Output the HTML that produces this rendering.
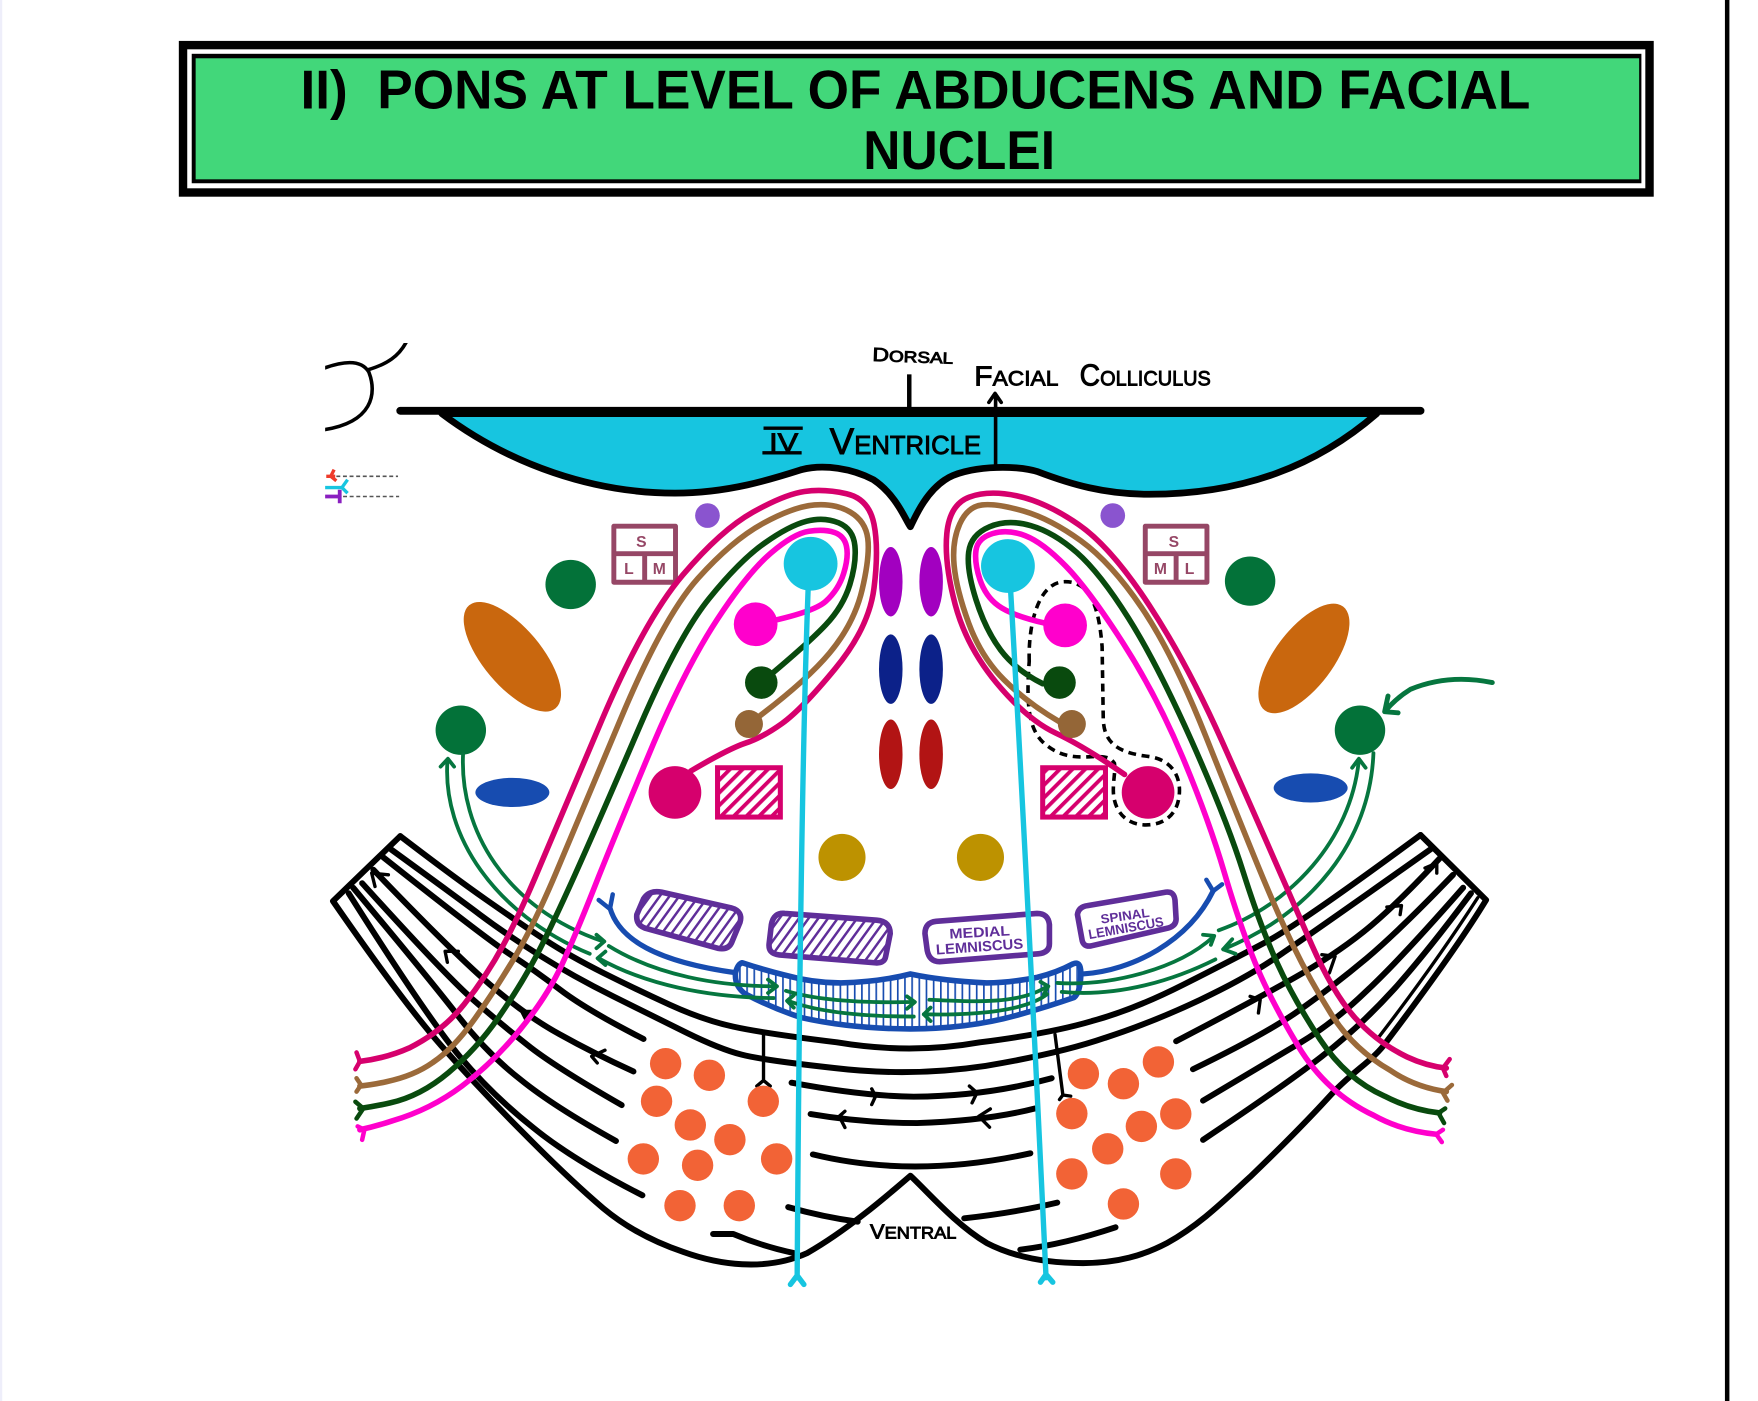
<!DOCTYPE html>
<html lang="en">
<head>
<meta charset="utf-8">
<title>Pons at level of abducens and facial nuclei</title>
<style>
html,body{margin:0;padding:0;background:#fff;width:1758px;height:1401px;overflow:hidden}
svg{display:block;position:absolute;left:0;top:0}
text{font-family:"Liberation Sans",sans-serif}
.t{fill:none;stroke-width:5;stroke-linecap:round;stroke-linejoin:round}
.b{fill:none;stroke:#000;stroke-width:5.3;stroke-linecap:round;stroke-linejoin:round}
.g{fill:none;stroke:#06763f;stroke-width:3.4;stroke-linecap:round;stroke-linejoin:round}
.a{fill:none;stroke:#000;stroke-width:3;stroke-linecap:round;stroke-linejoin:round}
.hw{fill:#000;stroke:#000;stroke-width:.8}
</style>
</head>
<body>
<svg width="1758" height="1401" viewBox="0 0 1568 1250" preserveAspectRatio="none" xmlns="http://www.w3.org/2000/svg">
<defs>
<pattern id="hp" width="8" height="8" patternUnits="userSpaceOnUse" patternTransform="rotate(45)"><rect width="8" height="8" fill="#fff"/><rect width="3.4" height="8" fill="#d6006d"/></pattern>
<pattern id="hv" width="7" height="7" patternUnits="userSpaceOnUse" patternTransform="rotate(36)"><rect width="7" height="7" fill="#fff"/><rect width="2.2" height="7" fill="#5f2e99"/></pattern>
<pattern id="hb" width="6.4" height="6" patternUnits="userSpaceOnUse"><rect width="6.4" height="6" fill="#fff"/><rect width="1.5" height="6" fill="#174cb0"/></pattern>
<clipPath id="cl"><rect x="290" y="306" width="100" height="174"/></clipPath>
</defs>
<rect width="1568" height="1250" fill="#fff"/>
<rect x="0" y="0" width="2" height="1250" fill="#eeeefa"/>
<rect x="1538.5" y="0" width="4" height="1250" fill="#000"/>

<!-- title -->
<rect x="159.5" y="36.5" width="1315.5" height="139" fill="#000"/>
<rect x="167" y="44" width="1300.5" height="124" fill="#fff"/>
<rect x="171" y="48" width="1293" height="115.5" fill="#000"/>
<rect x="174.5" y="52" width="1287.5" height="108" fill="#42d77a"/>
<text x="268" y="97" font-size="49" font-weight="bold" textLength="1097" lengthAdjust="spacingAndGlyphs">II)&#160;&#160;PONS AT LEVEL OF ABDUCENS AND FACIAL</text>
<text x="770" y="151" font-size="49" font-weight="bold" textLength="171" lengthAdjust="spacingAndGlyphs">NUCLEI</text>

<!-- top-left fragment -->
<g clip-path="url(#cl)" fill="none" stroke="#000" stroke-width="3.2" stroke-linecap="round">
<path d="M285,330 C305,322 322,320 329,332 C336,350 334,378 285,384"/>
<path d="M328,330 C345,325 356,318 363,304"/>
</g>

<!-- legend -->
<path d="M300,425H355" stroke="#555" stroke-width="1.4" stroke-dasharray="3.5 2.4"/>
<path d="M291,425H299M298,419L295,425L300,429" fill="none" stroke="#ee3b2a" stroke-width="3"/>
<path d="M290,435H305M310,428L305,435L310,440" fill="none" stroke="#17c5e0" stroke-width="3"/>
<path d="M290,443H304M303,437V449" fill="none" stroke="#8a1fc0" stroke-width="3.4"/>
<path d="M306,443H356" stroke="#555" stroke-width="1.4" stroke-dasharray="3.5 2.4"/>

<!-- fibres -->
<g class="b">
<path d="M357,746L297,804Q360,895 394,933.5Q428,972 468,1012Q508,1052.5 538,1078Q568,1103 609.5,1117C640,1128 682,1135 720,1118C755,1098 790,1068 812,1049C830,1066 852,1092 880,1109C905,1122 935,1127 966,1127C997,1127 1020,1120 1041,1109C1070,1093 1092,1071 1115,1050C1140,1026 1165,1001 1186,978C1205,957 1222,948 1234,933C1262,896 1300,845 1325.5,803L1267,745"/>
<path d="M357,746Q404,782 434,803Q464,824 486,838.5Q508,853 538,868Q568,883 597.5,896.5Q627,910 654,916Q681,922 746.5,930Q812,941 874,930Q937,922 974,911Q1011,901 1055.5,878.5Q1100,856 1130,840Q1160,824 1267,745"/>
<path d="M349,758Q404,798 428,816Q452,834 481.5,852.5Q511,871 547,889Q583,907 612.5,921.5Q642,936 661.5,941Q681,946 745,953Q812,961 879,951Q945,940 985.5,926Q1026,913 1070.5,892Q1115,871 1144.5,850Q1174,830 1277,757"/>
<path d="M342,765Q434,838 455,851.5Q476,865 499.5,883Q523,901 574,927"/>
<path d="M333,776Q404,850 437,878.5Q470,907 499.5,923Q529,939.5 565,956"/>
<path d="M323,788Q398,871 422,892Q446,913 470,932Q493.5,951 554.5,986"/>
<path d="M315,792Q383.5,874 409,907Q434,939.5 464,963Q493.5,987 549.4,1018"/>
<path d="M311,797Q380.5,907 410,942.5Q440,978 475.5,1006Q511,1035 573,1066.5"/>
<path d="M1284,766Q1243,810 1216,831.5Q1189,853 1153.5,873Q1118,893 1049,929"/>
<path d="M1296,780.5Q1249,829.5 1219,855Q1189,880 1159.5,901Q1130,922 1064,954"/>
<path d="M1305,792Q1249,856 1219,884Q1189,913 1159.5,930.5Q1130,948 1073,982"/>
<path d="M1312,797Q1272.5,850 1243,883Q1213,916 1179,942.5Q1145,969 1073,1017"/>
<path d="M1318,801Q1280,860 1230,925" stroke-width="3"/>
<path d="M706,966Q770,978 815,978.5Q880,978 938,962"/>
<path d="M723,994Q770,1002 818,1002Q880,1000 923,989"/>
<path d="M725,1030Q815,1052 919,1029"/>
<path d="M703,1077Q735,1086 765,1090"/>
<path d="M860,1087Q905,1082 943,1073"/>
<path d="M636,1101H654Q680,1112 708,1118"/>
<path d="M995,1095Q950,1110 910,1115"/>
</g>
<!-- fibre arrowheads -->
<g class="a">
<path d="M346.4,780.5L331.5,779L334.5,791"/>
<path d="M408.8,848.8L397,848.8L399,858.6"/>
<path d="M477,902.4L465.3,902.4L469.7,911"/>
<path d="M539.6,937L527.7,942.5L532.7,948.4"/>
<path d="M1271,774.5L1281.5,770L1281.5,779"/>
<path d="M1237,809.3L1250,808L1248.8,816"/>
<path d="M1179,851.8L1190.8,853.3L1185.7,868"/>
<path d="M1115,889L1124,892L1122.4,903.8"/>
<path d="M777.5,971.5L781,978L777.5,985.5"/>
<path d="M864.6,969L871.4,975L867,984"/>
<path d="M753.6,991.5L748.5,996L753.6,1006"/>
<path d="M883.3,989.4L873,996L882.6,1005.7"/>
<path d="M681,921V964M675,969L681,964L687,969"/>
<path d="M941,923L948,977M945,981L948,977L955,978"/>
</g>

<!-- orange dots -->
<g fill="#f26336">
<circle cx="593.7" cy="949" r="14"/><circle cx="632.7" cy="959.4" r="14"/><circle cx="585.6" cy="982.6" r="14"/><circle cx="680.8" cy="982.6" r="14"/><circle cx="615.7" cy="1003.7" r="14"/><circle cx="651" cy="1016.8" r="14"/><circle cx="573.8" cy="1034" r="14"/><circle cx="622.2" cy="1039.7" r="14"/><circle cx="692.7" cy="1034" r="14"/><circle cx="606.5" cy="1075.7" r="14"/><circle cx="659.4" cy="1075.7" r="14"/>
<circle cx="966.3" cy="958" r="14"/><circle cx="1002" cy="966.9" r="14"/><circle cx="1033.2" cy="947.5" r="14"/><circle cx="956" cy="993.6" r="14"/><circle cx="1048.7" cy="993.9" r="14"/><circle cx="1018" cy="1005" r="14"/><circle cx="988" cy="1025" r="14"/><circle cx="956" cy="1047.4" r="14"/><circle cx="1048.7" cy="1047.4" r="14"/><circle cx="1002" cy="1074.2" r="14"/>
</g>

<!-- top line & ventricle -->
<path d="M394,369C455,415 530,440 602,440C650,440 690,427 715,419C735,414 760,418 779,428C800,442 808,465 812,470C816,462 825,440 843,428C860,416 905,414 926,421C955,432 985,441 1025,441C1110,441 1175,415 1228,369Z" fill="#17c5e0" stroke="#000" stroke-width="6" stroke-linejoin="round"/>
<path d="M357,366.5H1267" stroke="#000" stroke-width="7" stroke-linecap="round"/>
<path d="M811,334V364" stroke="#000" stroke-width="4"/>
<path d="M888,417V353M882,359L887.5,351L893,359" fill="none" stroke="#000" stroke-width="3.2" stroke-linecap="round" stroke-linejoin="round"/>

<!-- handwritten labels -->
<text class="hw" x="778" y="322" font-size="14" textLength="72" lengthAdjust="spacingAndGlyphs" transform="rotate(2 778 322)"><tspan font-size="17">D</tspan>ORSAL</text>
<text class="hw" x="869" y="344" font-size="19" textLength="75" lengthAdjust="spacingAndGlyphs"><tspan font-size="25">F</tspan>ACIAL</text>
<text class="hw" x="963" y="344" font-size="19" textLength="117" lengthAdjust="spacingAndGlyphs"><tspan font-size="27">C</tspan>OLLICULUS</text>
<text class="hw" x="686" y="403" font-size="23" textLength="26" lengthAdjust="spacingAndGlyphs">IV</text>
<path d="M681,382H716M680,404H715" stroke="#000" stroke-width="3" fill="none"/>
<text class="hw" x="740" y="405" font-size="23" textLength="135" lengthAdjust="spacingAndGlyphs"><tspan font-size="33">V</tspan>ENTRICLE</text>
<text class="hw" x="776" y="1105" font-size="15" textLength="77" lengthAdjust="spacingAndGlyphs"><tspan font-size="18">V</tspan>ENTRAL</text>

<!-- S L M boxes -->
<g fill="none" stroke="#964766" stroke-width="4.4" stroke-linejoin="round">
<rect x="547.5" y="469.5" width="55" height="50"/><path d="M547.5,494H602.5M575,494V519.5"/>
<rect x="1021.5" y="469.5" width="55" height="50"/><path d="M1021.5,494H1076.5M1049,494V519.5"/>
</g>
<g fill="#964766" font-size="14" font-weight="bold" text-anchor="middle">
<text x="572" y="488">S</text><text x="561" y="512">L</text><text x="588" y="512">M</text>
<text x="1047" y="488">S</text><text x="1035" y="512">M</text><text x="1061" y="512">L</text>
</g>

<!-- nuclei -->
<circle cx="631" cy="460" r="11" fill="#8a54cf"/><circle cx="992.5" cy="460" r="11" fill="#8a54cf"/>
<g fill="#037239">
<ellipse cx="509" cy="521.5" rx="22.5" ry="22"/><ellipse cx="1115" cy="518.5" rx="22.5" ry="22"/>
<ellipse cx="411" cy="651.5" rx="22.5" ry="22"/><ellipse cx="1213" cy="651.5" rx="22.5" ry="22"/>
</g>
<ellipse cx="457" cy="586" rx="26" ry="60" fill="#c9670e" transform="rotate(-40 457 586)"/>
<ellipse cx="1163" cy="587.5" rx="26" ry="58" fill="#c9670e" transform="rotate(37 1163 587.5)"/>
<ellipse cx="457" cy="707" rx="33" ry="13" fill="#174cb0"/>
<ellipse cx="1169" cy="703" rx="33" ry="13" fill="#174cb0"/>
<ellipse cx="794.5" cy="519" rx="10.5" ry="31" fill="#a200c0"/><ellipse cx="830.5" cy="519" rx="10.5" ry="31" fill="#a200c0"/>
<ellipse cx="794.5" cy="597" rx="10.5" ry="31" fill="#0c2189"/><ellipse cx="830.5" cy="597" rx="10.5" ry="31" fill="#0c2189"/>
<ellipse cx="794.5" cy="673" rx="10.5" ry="31" fill="#b21414"/><ellipse cx="830.5" cy="673" rx="10.5" ry="31" fill="#b21414"/>
<circle cx="751" cy="765" r="21" fill="#bd9200"/><circle cx="874.5" cy="765" r="21" fill="#bd9200"/>
<rect x="640" y="685" width="56" height="44" fill="url(#hp)" stroke="#d6006d" stroke-width="4.5"/>
<rect x="930" y="685" width="56" height="44" fill="url(#hp)" stroke="#d6006d" stroke-width="4.5"/>

<!-- dashed contour -->
<path d="M918,590C917,560 925,519 950,519C972,519 980,540 983,577L984,640C984,665 1000,672 1025,675C1045,678 1052,692 1052,705C1052,725 1040,736 1022,736C1003,736 993,722 993,705C993,695 995,688 994,681C990,675 985,675 975,675C960,676 945,676 930,662C918,650 915,630 918,590Z" fill="none" stroke="#000" stroke-width="3.2" stroke-dasharray="7 5"/>

<!-- purple boxes -->
<g stroke="#5f2e99" stroke-width="5" stroke-linejoin="round">
<path d="M590,796L652,810Q663,813 660,823L653,840Q650,848 640,846L575,828Q567,825 568,816L574,802Q579,794 590,796Z" fill="url(#hv)"/>
<path d="M700,815L782,821Q794,822 794,833L790,853Q789,860 780,859L695,852Q685,851 686,842L688,825Q690,814 700,815Z" fill="url(#hv)"/>
<path d="M835,822L925,815Q935,815 936,825L936,842Q936,850 926,851L838,858Q829,858 827,848L825,833Q825,823 835,822Z" fill="#fff"/>
<path d="M970,808L1040,796Q1047,795 1048,803L1049,820Q1049,826 1042,828L973,844Q966,845 965,838L961,816Q962,809 970,808Z" fill="#fff"/>
</g>
<g fill="#5f2e99" font-weight="bold" text-anchor="middle">
<text x="874" y="836" font-size="12.5" textLength="54" lengthAdjust="spacingAndGlyphs" transform="rotate(-3 874 836)">MEDIAL</text>
<text x="874" y="849" font-size="13" textLength="78" lengthAdjust="spacingAndGlyphs" transform="rotate(-4 874 849)">LEMNISCUS</text>
<text x="1004" y="821" font-size="11.5" textLength="44" lengthAdjust="spacingAndGlyphs" transform="rotate(-8 1004 821)">SPINAL</text>
<text x="1005" y="832" font-size="12" textLength="68" lengthAdjust="spacingAndGlyphs" transform="rotate(-10 1005 832)">LEMNISCUS</text>
</g>

<!-- pyramid -->
<path d="M544,810C552,838 585,858 657,868" fill="none" stroke="#174cb0" stroke-width="4.6" stroke-linecap="round"/>
<path d="M534,803L544,811L546.5,798" fill="none" stroke="#174cb0" stroke-width="4" stroke-linecap="round"/>
<path d="M966,869C1010,866 1060,840 1082,795" fill="none" stroke="#174cb0" stroke-width="4.6" stroke-linecap="round"/>
<path d="M1076,785L1082,795L1090,789" fill="none" stroke="#174cb0" stroke-width="4" stroke-linecap="round"/>
<path d="M662,859Q658,860 656,868Q655,880 665,887Q690,900 715,908Q760,918 812,918Q865,918 910,905Q935,898 958,890Q964,885 964,868Q964,857 957,860Q942,868 925,872Q900,877 880,877Q840,875 812,869Q785,876 750,877Q725,877 700,870Q680,865 662,859Z" fill="url(#hb)" stroke="#174cb0" stroke-width="5" stroke-linejoin="round"/>

<!-- green tracts -->
<g class="g">
<path d="M413,673C410,740 450,810 538,840"/>
<path d="M532,834L539,840L532,846"/>
<path d="M399,680C395,745 440,815 526,851"/>
<path d="M393,684L399.5,677L405,684"/>
<path d="M543,844C585,870 640,880 692,880"/>
<path d="M685,874L693,880L685,886"/>
<path d="M534,855C575,878 630,890 690,890.5"/>
<path d="M540,849L533,855L540,861"/>
<path d="M701,884C730,893 770,895 815,894"/>
<path d="M809,889L816,894L809,900"/>
<path d="M703,893C730,903 770,907 815,907"/>
<path d="M708,888L702,893L708,899"/>
<path d="M829,892C870,894 910,896 934,880"/>
<path d="M928,876L935,880L931,887"/>
<path d="M824,905C870,906 915,902 934,887"/>
<path d="M830,899L824,905L830,911"/>
<path d="M943,877C990,880 1050,865 1082,836"/>
<path d="M1073,834L1083,835L1080,843"/>
<path d="M947,885C1000,890 1050,873 1084,856"/>
<path d="M1087,830C1150,808 1205,750 1212,678"/>
<path d="M1206,685L1212,677L1218,685"/>
<path d="M1225,672C1222,750 1170,815 1091,847"/>
<path d="M1099,838L1091,847L1102,851"/>
</g>
<path d="M1331,609Q1292,601 1258,615Q1245,623 1235,635M1238,621L1235,635L1247,636" fill="none" stroke="#06763f" stroke-width="4.4" stroke-linecap="round" stroke-linejoin="round"/>

<!-- cranial nerve tracts -->
<g class="t">
<path stroke="#d6006d" d="M616,688Q650,668 665,663Q680,658 697.5,645.5Q715,633 745,596.5Q775,560 779.5,525Q784,490 779.5,467.5Q775,445 755,440.5Q735,436 717.5,438.5Q700,441 671.5,457Q643,473 609,513Q575,553 537,642Q499,731 481.5,773Q464,815 449,843Q434,871 414,896Q395,920 365,935Q345,944 321,947"/>
<path stroke="#9b6a3a" d="M668,646Q718,609 740,582.5Q762,556 769,526Q776,496 774,480.5Q772,465 758.5,457Q745,449 726.5,450.5Q708,452 680.5,467Q653,482 622.5,516Q592,550 554,640.5Q516,731 496,778.5Q476,826 458,856Q440,886 422,911Q404,936 386,948Q369,960 345,965Q332,968 321,969"/>
<path stroke="#094a0e" d="M679,609Q721,574 736.5,557.5Q752,541 758,521.5Q764,502 762.5,487Q761,472 748,466.5Q735,461 719.5,465Q704,469 682,484.5Q660,500 632.5,534Q605,568 570,649.5Q535,731 513,780Q491,829 477.5,854.5Q464,880 444.5,908Q425,936 400,957Q375,978 348,984Q335,987 321,989"/>
<path stroke="#ff00cc" d="M674,557Q725,547 736.5,536.5Q748,526 752.5,511.5Q757,497 755,487.5Q753,478 744,475Q735,472 721.5,474Q708,476 687.5,493.5Q667,511 639.5,553Q612,595 583,663Q554.5,731 534,782Q514,833 501,861Q488,889 464,918.5Q440,948 412,969Q384,990 350,1000Q335,1005 321,1008"/>
<path stroke="#d6006d" d="M1003,691Q967,666 941.5,654Q916,642 889,609.5Q862,577 852,539.5Q842,502 844.5,476Q847,450 864.5,443.5Q882,437 907.5,442.5Q933,448 962,468Q991,488 1025,540Q1059,592 1090,661.5Q1121,731 1136,765.5Q1151,800 1170,843Q1189,886 1208.5,908Q1228,930 1255,943Q1272,951 1290,953"/>
<path stroke="#9b6a3a" d="M945,644Q916,627 895.5,606.5Q875,586 864,556Q853,526 851,504.5Q849,483 856,467.5Q863,452 876,450.5Q889,449 913,456Q937,463 964,482.5Q991,502 1018.5,542.5Q1046,583 1075.5,657Q1105,731 1122,772.5Q1139,814 1153.5,844Q1168,874 1187.5,905Q1207,936 1240,955Q1262,970 1290,974"/>
<path stroke="#094a0e" d="M930,610Q906,598 892.5,580Q879,562 870.5,535Q862,508 864,492.5Q866,477 882.5,470Q899,463 919.5,469Q940,475 960.5,493Q981,511 1006.5,551.5Q1032,592 1063,661.5Q1094,731 1109,778.5Q1124,826 1139,859Q1154,892 1177.5,927.5Q1201,963 1235,978Q1258,990 1284,993"/>
<path stroke="#ff00cc" d="M932,556Q902,549 890.5,540.5Q879,532 874,517Q869,502 870.5,491Q872,480 885.5,476Q899,472 914.5,478Q930,484 950.5,505Q971,526 1001.5,573.5Q1032,621 1055,676Q1078,731 1092,778.5Q1106,826 1119.5,859Q1133,892 1158,933.5Q1183,975 1225,995Q1250,1009 1281,1012"/>
<path stroke="#d6006d" stroke-width="4" d="M318,939L321,947L317,954M1293,945L1287,953L1290,960"/>
<path stroke="#9b6a3a" stroke-width="4" d="M318,962L322,968L318,974M1295,968L1287,975L1291,982"/>
<path stroke="#094a0e" stroke-width="4" d="M317,983L324,989L318,998M1289,989L1283,993L1288,1002"/>
<path stroke="#ff00cc" stroke-width="4" d="M319,1005L325,1008L323,1017M1287,1008L1281,1012L1286,1019"/>
</g>

<!-- nuclei on top of tracts -->
<circle cx="674" cy="557" r="19.5" fill="#ff00cc"/><circle cx="950" cy="558" r="19.5" fill="#ff00cc"/>
<circle cx="679" cy="609" r="14.5" fill="#094a0e"/><circle cx="945" cy="609" r="14.5" fill="#094a0e"/>
<circle cx="668" cy="646" r="12.5" fill="#946637"/><circle cx="956" cy="646" r="12.5" fill="#946637"/>
<circle cx="602" cy="707" r="23.5" fill="#d6006d"/><circle cx="1024" cy="707" r="23.5" fill="#d6006d"/>

<!-- cyan abducens fibres -->
<path d="M721,520Q714,700 711,1140M705,1146L711,1138L717,1146" fill="none" stroke="#17c5e0" stroke-width="4.8" stroke-linecap="round" stroke-linejoin="round"/>
<path d="M901,520Q915,760 933,1140M928,1144L933,1137L939,1144" fill="none" stroke="#17c5e0" stroke-width="4.8" stroke-linecap="round" stroke-linejoin="round"/>
<circle cx="723" cy="503" r="24" fill="#17c5e0"/><circle cx="899" cy="505" r="24" fill="#17c5e0"/>
</svg>
</body>
</html>
